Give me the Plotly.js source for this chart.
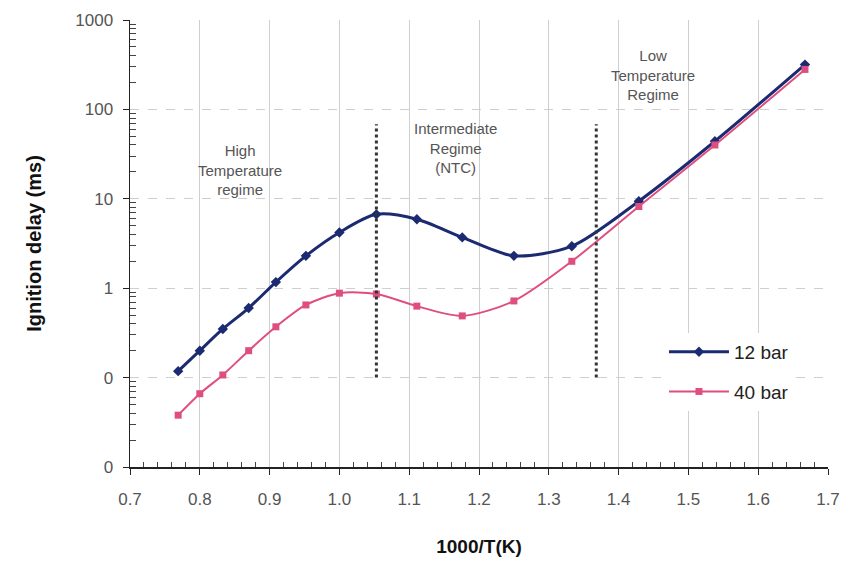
<!DOCTYPE html>
<html>
<head>
<meta charset="utf-8">
<script src="https://cdn.plot.ly/plotly-3.0.1.min.js"></script>
<style>html,body{margin:0;padding:0;background:#fff;}#chart{width:845px;height:566px;}</style>
</head>
<body>
<div id="chart"></div>
<script>
// 1000/T values (K^-1 * 1000)
var invT = [0.769, 0.800, 0.833, 0.870, 0.909, 0.952, 1.000, 1.053, 1.111, 1.176, 1.250, 1.333, 1.429, 1.538, 1.667];
var delay12 = [0.118, 0.20, 0.35, 0.60, 1.17, 2.3, 4.2, 6.7, 5.9, 3.7, 2.3, 2.95, 9.4, 44, 317];
var delay40 = [0.038, 0.066, 0.107, 0.20, 0.37, 0.65, 0.88, 0.86, 0.63, 0.49, 0.72, 2.0, 8.2, 40, 280];
var seriesNames = ["12 bar", "40 bar"];
var yTickVals = [0.01, 0.1, 1, 10, 100, 1000];
var yTickText = ["0", "0", "1", "10", "100", "1000"];
var xTickVals = [0.7, 0.8, 0.9, 1.0, 1.1, 1.2, 1.3, 1.4, 1.5, 1.6, 1.7];
var regimeX = [1.053, 1.368];
var regimeYTop = 68, regimeYBottom = 0.1;
var labelTexts = ["High<br>Temperature<br>regime", "Intermediate<br>Regime<br>(NTC)", "Low<br>Temperature<br>Regime"];
var labelX = [0.858, 1.166, 1.449];
var labelY = [21, 37, 240];

// minor tick positions (axis decoration)
var xMinor = [];
for (var i = 0; i < 50; i++) { var v = +(0.7 + i * 0.02).toFixed(2); if (Math.round(v * 100) % 10 !== 0) xMinor.push(v); }
var yMinor = [];
for (var d = -2; d < 3; d++) { for (var m = 2; m <= 9; m++) yMinor.push(m * Math.pow(10, d)); }

var traces = [
  {x: invT, y: delay12, name: seriesNames[0], legendgroup: 'g1', mode: 'lines+markers', type: 'scatter',
   line: {color: '#1c2a72', width: 3, shape: 'spline', smoothing: 0.8},
   marker: {symbol: 'diamond', size: 8, color: '#1c2a72'}},
  {x: invT, y: delay40, name: seriesNames[1], legendgroup: 'g2', mode: 'lines+markers', type: 'scatter',
   line: {color: '#de4f7f', width: 2, shape: 'spline', smoothing: 0.8},
   marker: {symbol: 'square', size: 7, color: '#de4f7f'}}
];

var shapes = regimeX.map(function(xv){
  return {type: 'line', xref: 'x', yref: 'y', x0: xv, x1: xv, y0: regimeYBottom, y1: regimeYTop,
          line: {color: '#333', width: 3, dash: 'dot'}};
});

var annotations = labelTexts.map(function(t, i){
  return {x: labelX[i], y: Math.log10(labelY[i]), xref: 'x', yref: 'y', text: t, showarrow: false,
          font: {family: 'Liberation Sans, Arial, sans-serif', size: 15, color: '#555'}, align: 'center'};
});

var layout = {
  width: 845, height: 566,
  margin: {l: 130, r: 17, t: 20, b: 99},
  paper_bgcolor: '#fff', plot_bgcolor: '#fff',
  font: {family: 'Liberation Sans, Arial, sans-serif', color: '#444', size: 15},
  showlegend: true,
  legend: {x: 0.765, y: 0.30, xanchor: 'left', yanchor: 'top', bgcolor: '#fff',
           font: {size: 19, color: '#222'}, tracegroupgap: 12, itemwidth: 60},
  xaxis: {range: [0.7, 1.7], tickvals: xTickVals, tickformat: '.1f',
          showline: true, linecolor: '#222', linewidth: 1.5,
          ticks: 'outside', ticklen: 6, tickcolor: '#222', ticklabelstandoff: 10,
          showgrid: true, gridcolor: '#cfcfcf', gridwidth: 1,
          minor: {tickmode: 'array', tickvals: xMinor, ticks: 'inside', ticklen: 5, tickcolor: '#444', showgrid: false},
          zeroline: false,
          title: {text: '1000/T(K)', font: {size: 19, color: '#111', family: 'Liberation Sans, Arial, sans-serif', weight: 'bold'}, standoff: 32},
          tickfont: {size: 17, color: '#555'}},
  yaxis: {type: 'log', range: [-2, 3], tickvals: yTickVals, ticktext: yTickText,
          showline: true, linecolor: '#222', linewidth: 1.5,
          ticks: 'outside', ticklen: 6, tickcolor: '#222', ticklabelstandoff: 6,
          showgrid: true, gridcolor: '#cfcfcf', gridwidth: 1, griddash: 'dash',
          minor: {tickmode: 'array', tickvals: yMinor, ticks: 'inside', ticklen: 6, tickcolor: '#444', showgrid: false},
          zeroline: false,
          title: {text: 'Ignition delay (ms)', font: {size: 20, color: '#111', family: 'Liberation Sans, Arial, sans-serif', weight: 'bold'}, standoff: 28},
          tickfont: {size: 17, color: '#555'}},
  shapes: shapes,
  annotations: annotations
};

Plotly.newPlot('chart', traces, layout, {displayModeBar: false, staticPlot: true});
</script>
</body>
</html>
